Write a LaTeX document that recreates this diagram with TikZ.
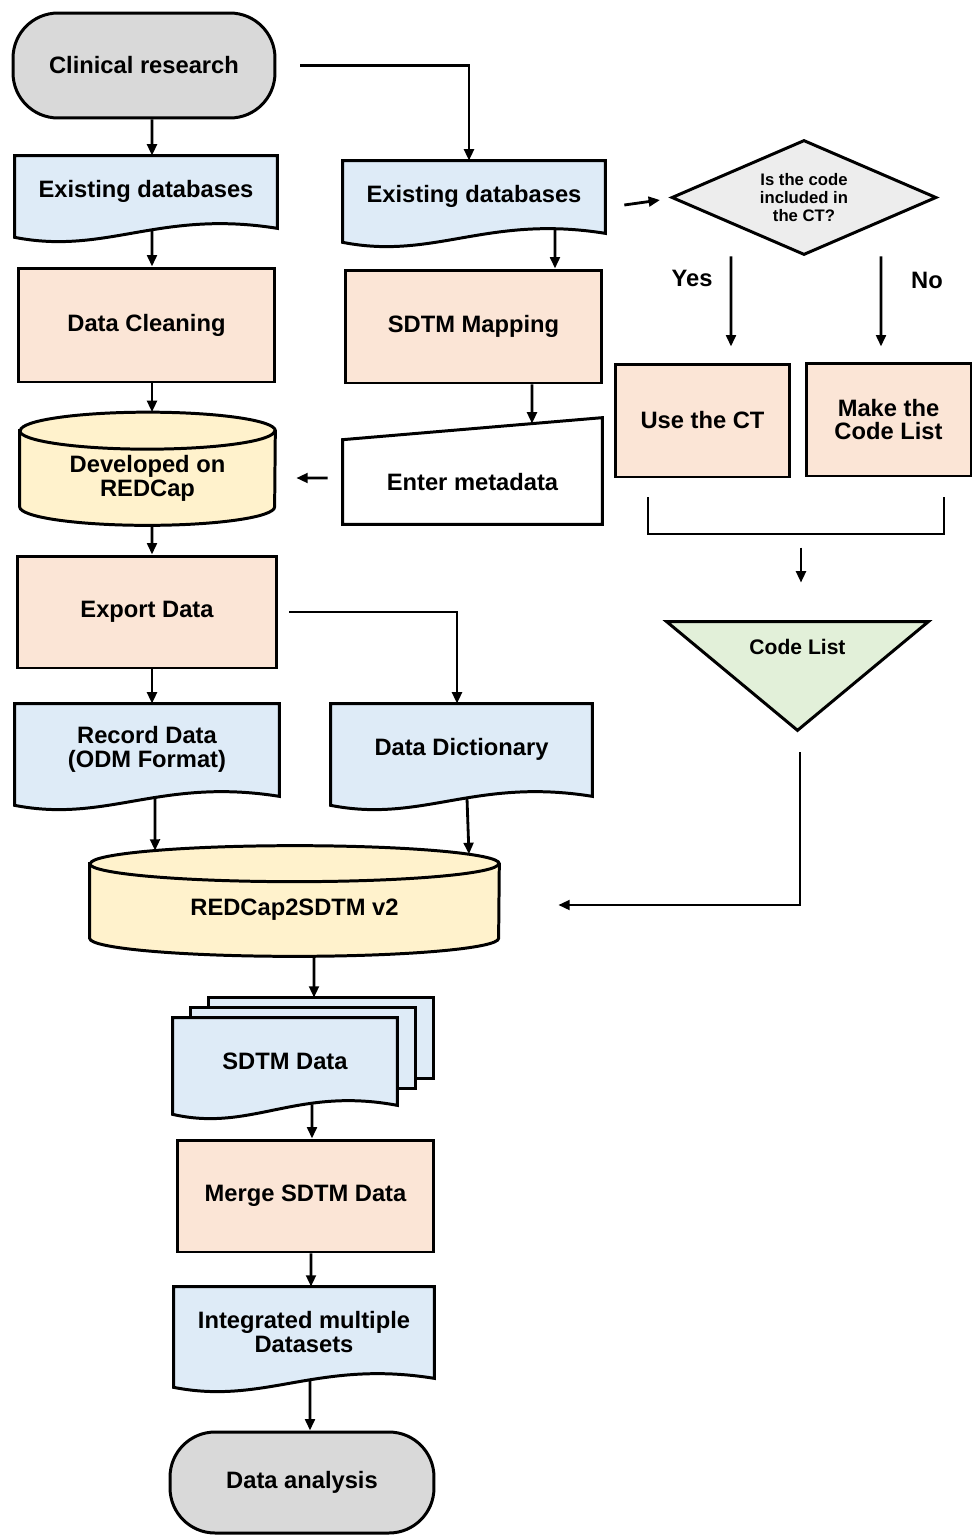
\documentclass[tikz,border=0pt]{standalone}
\usepackage{fontspec}
\setmainfont{Liberation Sans}
\usepackage{xcolor}
\usepackage{tikz}
\usetikzlibrary{shapes,arrows.meta,positioning,calc,backgrounds}
\definecolor{termfill}{RGB}{217,217,217}
\definecolor{docfill}{RGB}{222,235,247}
\definecolor{procfill}{RGB}{251,229,214}
\definecolor{storefill}{RGB}{255,242,204}
\definecolor{decfill}{RGB}{237,237,237}
\definecolor{listfill}{RGB}{226,240,217}

% document outline with a wavy bottom edge
\newcommand{\docpath}[1]{%
  \draw[outline, fill=docfill] (#1.north west) -- (#1.north east) -- ($(#1.south east)+(0,1)$)
    .. controls ($(#1.south west)!0.55!(#1.south east)+(0,-18)$) and ($(#1.south west)!0.35!(#1.south east)+(0,28)$)
    .. ($(#1.south west)+(0,10)$) -- cycle;}
% database cylinder: node, x radius, y radius
\newcommand{\cylpath}[3]{%
  \draw[outline, fill=storefill] (#1.north west) -- ([yshift=#3]#1.south west)
    arc[start angle=180, end angle=360, x radius=#2, y radius=#3] -- (#1.north east)
    arc[start angle=0, end angle=180, x radius=#2, y radius=#3] -- cycle;
  \draw[outline] (#1.north west) arc[start angle=180, end angle=360, x radius=#2, y radius=#3];}

\begin{document}
\begin{tikzpicture}[
    x=0.02cm, y=-0.02cm,
    txt/.style={font=\bfseries\fontsize{13.5}{13.6}\selectfont, align=center, inner sep=0pt},
    terminal/.style={txt, draw, line width=1.7pt, fill=termfill, rounded corners=0.9cm},
    process/.style={txt, draw, line width=1.7pt, fill=procfill},
    decision/.style={diamond, aspect=2.3, draw, line width=1.7pt, fill=decfill, inner sep=0pt,
        font=\bfseries\fontsize{9.5}{10.2}\selectfont, align=center},
    outline/.style={line width=1.7pt},
    arrow/.style={-{Triangle[length=6.5pt,width=5.5pt]}, line width=1.6pt},
    line/.style={line width=1.6pt}
]
    \useasboundingbox (0,0) rectangle (972,1535);

    % Left column
    \node[terminal, minimum width=5.24cm, minimum height=2.1cm] (clin) at (144,65.5) {Clinical research};
    \node[txt, minimum width=5.24cm, minimum height=1.42cm] (exl) at (146,191.5) {Existing databases};
    \node[process, minimum width=5.14cm, minimum height=2.28cm] (clean) at (146.5,325) {Data Cleaning};
    \node[txt, minimum width=5.1cm, minimum height=1.88cm] (redcap) at (147.5,478) {Developed on\\REDCap};
    \node[process, minimum width=5.2cm, minimum height=2.24cm] (export) at (147,612) {Export Data};
    \node[txt, minimum width=5.28cm, minimum height=1.82cm] (record) at (147,749.5) {Record Data\\(ODM Format)};

    % Middle column
    \node[txt, minimum width=5.24cm, minimum height=1.42cm] (exr) at (474,196.5) {Existing databases};
    \node[process, minimum width=5.14cm, minimum height=2.26cm] (map) at (473.5,326.5) {SDTM Mapping};
    \node[txt, minimum width=5.18cm, minimum height=1.68cm] (meta) at (472.5,482) {Enter metadata};
    \node[txt, minimum width=5.22cm, minimum height=1.82cm] (dict) at (461.5,749.5) {Data Dictionary};

    % Lower part
    \node[txt, minimum width=8.18cm, minimum height=1.84cm] (r2s) at (294.5,910) {REDCap2SDTM v2};
    \node[txt, minimum width=4.48cm, minimum height=1.72cm] (sdtm) at (285,1061) {SDTM Data};
    \node[process, minimum width=5.14cm, minimum height=2.24cm] (merge) at (305.5,1196) {Merge SDTM Data};
    \node[txt, minimum width=5.2cm, minimum height=1.8cm] (integ) at (304,1332) {Integrated multiple\\Datasets};
    \node[terminal, minimum width=5.28cm, minimum height=2.02cm] (analysis) at (302,1482.5) {Data analysis};

    % Code list branch
    \node[decision, minimum width=5.3cm, minimum height=2.3cm] (dia) at (804,197.5) {Is the code\\included in\\the CT?};
    \node[txt] (yes) at (692,278) {Yes};
    \node[txt] (no) at (927,280) {No};
    \node[process, minimum width=3.5cm, minimum height=2.26cm] (usect) at (702.5,420.5) {Use the CT};
    \node[process, minimum width=3.3cm, minimum height=2.26cm] (makecl) at (888.5,419.5) {Make the\\Code List};
    \node[txt, font=\bfseries\fontsize{12}{13}\selectfont, minimum width=5.22cm, minimum height=1cm] (codelist) at (797.5,647) {Code List};
    \coordinate (brl) at (648,497);
    \coordinate (brr) at (944,497);

    % Shape outlines
    \begin{scope}[on background layer]
        \docpath{exl}
        \docpath{exr}
        \docpath{record}
        \docpath{dict}
        \docpath{integ}
        \cylpath{redcap}{2.55cm}{0.37cm}
        \cylpath{r2s}{4.09cm}{0.36cm}
        \draw[outline, fill=white] (meta.south west) -- (meta.north west) -- ($(meta.north east)+(0,-22)$) -- (meta.south east) -- cycle;
        \draw[outline, fill=docfill] ($(sdtm.north west)+(36,-20)$) rectangle ($(sdtm.south east)+(36,-26)$);
        \draw[outline, fill=docfill] ($(sdtm.north west)+(18,-10)$) rectangle ($(sdtm.south east)+(18,-16)$);
        \docpath{sdtm}
        \draw[outline, fill=listfill] (codelist.north west) -- (codelist.north east) -- ($(codelist.south)+(0,58)$) -- cycle;
    \end{scope}

    % Connections
    \draw[arrow] ([xshift=0.16cm]clin.south) -- ([xshift=0.12cm]exl.north);
    \draw[arrow] ([xshift=0.48cm]clin.east) -| ([xshift=-0.1cm]exr.north);
    \draw[arrow] ([xshift=0.12cm,yshift=-0.06cm]exl.south) -- ([xshift=0.11cm]clean.north);
    \draw[arrow] ([xshift=1.62cm,yshift=0.06cm]exr.south) -- ([xshift=1.63cm]map.north);
    \draw[arrow] ([xshift=0.11cm]clean.south) -- ([xshift=0.09cm,yshift=0.37cm]redcap.north);
    \draw[arrow] ([xshift=1.17cm]map.south) -- ([xshift=1.19cm,yshift=0.32cm]meta.north);
    \draw[arrow] ([xshift=-0.3cm,yshift=0.08cm]meta.west) -- ([xshift=0.42cm]redcap.east);
    \draw[arrow] ([xshift=0.38cm,yshift=-0.17cm]exr.east) -- ([xshift=-0.2cm,yshift=-0.05cm]dia.west);
    \draw[arrow] ([xshift=-1.46cm]dia.south) -- ([xshift=0.57cm,yshift=0.32cm]usect.north);
    \draw[arrow] ([xshift=1.54cm]dia.south) -- ([xshift=-0.15cm,yshift=0.3cm]makecl.north);
    \draw[line] (brl) |- ($(brr)+(0,37)$) -- (brr);
    \draw[arrow] ([xshift=0.07cm,yshift=1.48cm]codelist.north) -- ([xshift=0.07cm,yshift=0.78cm]codelist.north);
    \draw[arrow] ($(codelist.south)+(2.5,80)$) |- ([xshift=1.18cm,yshift=0.1cm]r2s.east);
    \draw[arrow] ([xshift=0.09cm]redcap.south) -- ([xshift=0.1cm]export.north);
    \draw[arrow] ([xshift=0.1cm]export.south) -- ([xshift=0.1cm]record.north);
    \draw[arrow] ([xshift=0.22cm]export.east) -| ([xshift=-0.09cm]dict.north);
    \draw[arrow] ([xshift=0.16cm,yshift=-0.06cm]record.south) -- ([xshift=-2.79cm,yshift=0.26cm]r2s.north);
    \draw[arrow] ([xshift=0.11cm,yshift=-0.06cm]dict.south) -- ([xshift=3.49cm,yshift=0.19cm]r2s.north);
    \draw[arrow] ([xshift=0.39cm]r2s.south) -- ([xshift=0.58cm,yshift=0.4cm]sdtm.north);
    \draw[arrow] ([xshift=0.54cm]sdtm.south) -- ([xshift=0.13cm]merge.north);
    \draw[arrow] ([xshift=0.11cm]merge.south) -- ([xshift=0.14cm]integ.north);
    \draw[arrow] ([xshift=0.12cm,yshift=-0.06cm]integ.south) -- ([xshift=0.16cm]analysis.north);
\end{tikzpicture}
\end{document}
